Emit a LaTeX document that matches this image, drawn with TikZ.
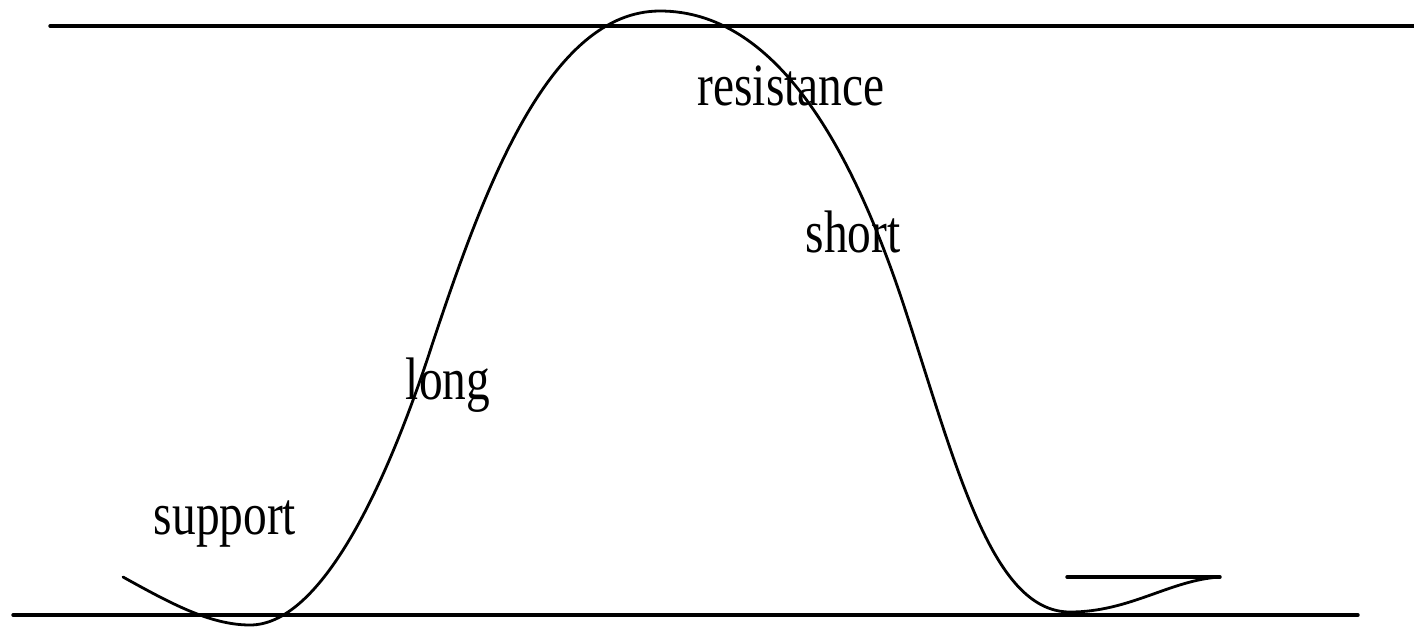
\documentclass[tikz,border=0pt]{standalone}
\usepackage{fontspec}
\setmainfont{Liberation Serif}
\begin{document}
\begin{tikzpicture}[x=0.5pt,y=-0.5pt,
  rule/.style={line width=1.7pt,line cap=round},
  wave/.style={line width=1.4pt,line cap=round},
  lab/.style={anchor=base,inner sep=0pt,font=\fontsize{30}{36}\selectfont}]
\useasboundingbox (0,0) rectangle (1414,628);
\coordinate (tl) at (50,26);
\coordinate (tr) at (1414,26);
\coordinate (bl) at (13,615);
\coordinate (br) at (1358,615);
\draw[rule] (tl) -- (tr);
\draw[rule] (bl) -- (br);
\coordinate (c0) at (123,577);
\coordinate (c1) at (250,625);
\coordinate (c2) at (432,345);
\coordinate (c3) at (660,11);
\coordinate (c4) at (902,300);
\coordinate (c5) at (1070,612);
\coordinate (c6) at (1220,577);
\coordinate (h0) at (1067,577);
\draw[wave] (c0) .. controls (170,603) and (210,625) .. (c1)
  .. controls (320,625) and (385,490) .. (c2)
  .. controls (485,185) and (550,11) .. (c3)
  .. controls (775,11) and (850,145) .. (c4)
  .. controls (955,460) and (990,612) .. (c5)
  .. controls (1130,612) and (1170,580) .. (c6);
\draw[rule] (h0) -- (c6);
\node[lab] (sup) at (225,534) {\scalebox{0.79}[1]{support}};
\node[lab] (lng) at (448,399) {\scalebox{0.79}[1]{long}};
\node[lab] (sht) at (853,252) {\scalebox{0.79}[1]{short}};
\node[lab] (res) at (791,105) {\scalebox{0.79}[1]{resistance}};
\end{tikzpicture}
\end{document}
